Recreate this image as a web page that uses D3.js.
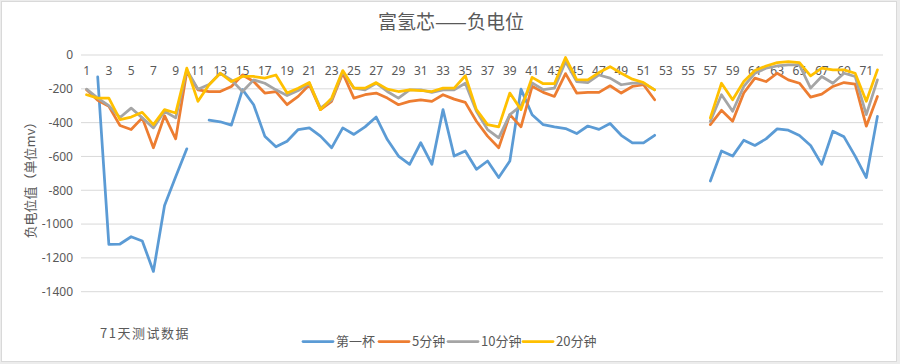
<!DOCTYPE html>
<html><head><meta charset="utf-8">
<script src="https://cdn.jsdelivr.net/npm/d3@7"></script>
<style>
html,body{margin:0;padding:0;background:#fff;}
svg{display:block;font-family:"Noto Sans CJK SC","Noto Sans",sans-serif;}
</style></head>
<body><svg id="c" width="900" height="364"></svg>
<script>
const title = "富氢芯——负电位";
const yAxisTitle = "负电位值（单位mv）";
const xNote = "71天测试数据";
const categories = d3.range(1, 73);
const yTicks = [0, -200, -400, -600, -800, -1000, -1200, -1400];
const seriesNames = ["第一杯", "5分钟", "10分钟", "20分钟"];
const seriesColors = ["#5B9BD5", "#ED7D31", "#A5A5A5", "#FFC000"];
const N = null;
const cup1 = [N,-130,-1120,-1118,-1075,-1100,-1280,-890,-720,-555,
  N,-385,-395,-415,-205,-294,-480,-543,-510,-441,
  -431,-480,-549,-431,-470,-425,-367,-500,-598,-647,
  -519,-647,-323,-598,-568,-676,-627,-725,-627,-202,
  -353,-412,-425,-435,-465,-420,-440,-405,-475,-520,
  -520,-475,N,N,N,N,-745,-568,-598,-504,
  -535,-496,-437,-445,-476,-535,-647,-451,-484,-598,
  -725,-363];
const min5 = [-206,-268,-304,-417,-441,-372,-549,-359,-496,-98,
  -206,-216,-216,-186,-118,-157,-225,-216,-294,-245,
  -176,-323,-274,-108,-255,-235,-225,-255,-294,-274,
  -265,-274,-235,-261,-280,-392,-480,-549,-353,-425,
  -185,-221,-245,-110,-225,-221,-221,-182,-225,-186,
  -176,-265,N,N,N,N,-412,-327,-392,-225,
  -137,-157,-108,-147,-167,-249,-231,-186,-163,-172,
  -421,-245];
const min10 = [-202,-255,-300,-370,-314,-372,-431,-333,-372,-88,
  -202,-175,-108,-147,-216,-147,-167,-206,-240,-210,
  -167,-314,-265,-98,-196,-206,-167,-216,-255,-206,
  -206,-221,-206,-206,-167,-333,-441,-490,-353,-300,
  -165,-205,-196,-39,-157,-163,-118,-137,-176,-167,
  -167,-206,N,N,N,N,-392,-235,-333,-186,
  -108,-78,-65,-59,-59,-196,-127,-167,-108,-127,
  -353,-147];
const min20 = [-235,-255,-255,-382,-367,-339,-412,-323,-343,-78,
  -274,-176,-108,-157,-127,-127,-137,-118,-225,-196,
  -163,-323,-255,-92,-196,-196,-163,-202,-216,-206,
  -210,-216,-196,-196,-123,-323,-412,-425,-225,-323,
  -132,-170,-170,-15,-145,-147,-104,-69,-108,-143,
  -163,-206,N,N,N,N,-372,-167,-265,-157,
  -92,-65,-45,-39,-45,-123,-78,-88,-88,-108,
  -274,-88];
const seriesValues = [cup1, min5, min10, min20];

const svg = d3.select("#c");
const textColor = "#595959";

// chart frame
svg.append("rect").attr("x",0).attr("y",0).attr("width",900).attr("height",364).attr("fill","#ececec");
svg.append("rect").attr("x",1.5).attr("y",1.5).attr("width",895).attr("height",360)
  .attr("fill","#fff").attr("stroke","#d9d9d9").attr("stroke-width",1);

const pLeft = 81, pRight = 883, pTop = 55, pBottom = 291.7;
const x = d3.scaleBand().domain(categories).range([pLeft, pRight]).paddingInner(0).paddingOuter(0);
const y = d3.scaleLinear().domain([-1400, 0]).range([pBottom, pTop]);
const cx = c => x(c) + x.bandwidth() / 2;

// gridlines
svg.append("g").selectAll("line").data(yTicks).join("line")
  .attr("x1", pLeft).attr("x2", pRight)
  .attr("y1", d => y(d)).attr("y2", d => y(d))
  .attr("stroke", "#d9d9d9").attr("stroke-width", 1);

// y axis
const yAxis = svg.append("g").attr("transform", `translate(${pLeft},0)`)
  .call(d3.axisLeft(y).tickValues(yTicks).tickSize(0).tickPadding(8).tickFormat(d => String(d)));
yAxis.select(".domain").remove();
yAxis.selectAll("text").attr("fill", textColor).attr("font-size", 12)
  .attr("font-family", "'Noto Sans','Noto Sans CJK SC',sans-serif");

// x axis at 0
const xAxis = svg.append("g").attr("transform", `translate(0,${y(0)})`)
  .call(d3.axisBottom(x).tickValues(categories.filter(c => c % 2 === 1)).tickSize(0).tickPadding(11));
xAxis.select(".domain").remove();
xAxis.selectAll("text").attr("fill", textColor).attr("font-size", 12)
  .attr("font-family", "'Noto Sans','Noto Sans CJK SC',sans-serif");

// lines
const line = d3.line().defined(d => d.v != null).x(d => cx(d.c)).y(d => y(d.v));
seriesValues.forEach((vals, i) => {
  const data = categories.map((c, k) => ({c: c, v: vals[k]}));
  svg.append("path").datum(data).attr("d", line)
    .attr("fill", "none").attr("stroke", seriesColors[i]).attr("stroke-width", 2.75)
    .attr("stroke-linejoin", "round").attr("stroke-linecap", "round");
});

// title
svg.append("text").attr("x", 451).attr("y", 29).attr("text-anchor", "middle")
  .attr("font-size", 19).attr("fill", textColor).text(title);

// y axis title
svg.append("text").attr("transform", "translate(35,177) rotate(-90)")
  .attr("text-anchor", "middle").attr("font-size", 13).attr("fill", textColor).text(yAxisTitle);

// x note
svg.append("text").attr("x", 100).attr("y", 338).attr("font-size", 13)
  .attr("letter-spacing", 1.5).attr("fill", textColor).text(xNote);

// legend
const legendX = [303, 379, 448, 523];
const lg = svg.append("g");
seriesNames.forEach((name, i) => {
  lg.append("line").attr("x1", legendX[i]).attr("x2", legendX[i] + 30)
    .attr("y1", 341.5).attr("y2", 341.5)
    .attr("stroke", seriesColors[i]).attr("stroke-width", 2.75).attr("stroke-linecap", "round");
  lg.append("text").attr("x", legendX[i] + 33).attr("y", 346)
    .attr("font-size", 13).attr("fill", textColor).text(name);
});
</script></body></html>
